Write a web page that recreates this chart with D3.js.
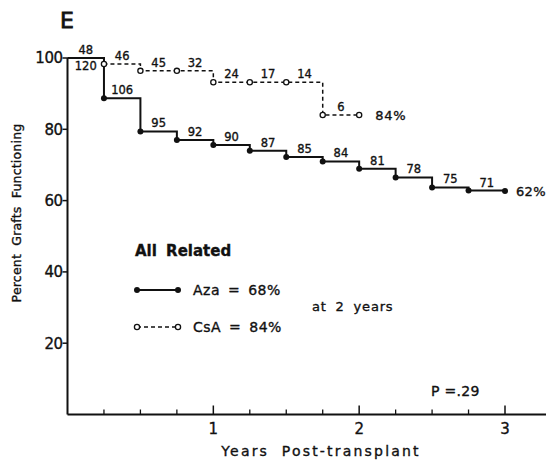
<!DOCTYPE html>
<html>
<head>
<meta charset="utf-8">
<script src="https://cdn.jsdelivr.net/npm/d3@7"></script>
<style>
  body { margin: 0; background: #fff; }
  svg text { font-family: "DejaVu Sans", sans-serif; fill: #111; stroke: #111; stroke-width: 0.35px; }
</style>
</head>
<body>
<div id="chart"></div>
<script>
// data
var azaYears = [0, 0.25, 0.5, 0.75, 1, 1.25, 1.5, 1.75, 2, 2.25, 2.5, 2.75, 3];
var azaPct = [100, 88.7, 79.4, 77.0, 75.6, 74.0, 72.2, 71.0, 68.9, 66.5, 63.7, 62.8, 62.7];
var azaAtRisk = [120, 106, 95, 92, 90, 87, 85, 84, 81, 78, 75, 71];

var csaYears = [0, 0.25, 0.5, 0.75, 1, 1.25, 1.5, 1.75, 2];
var csaPct = [100, 98.3, 96.4, 96.4, 93.2, 93.2, 93.2, 84, 84];
var csaAtRisk = [48, 46, 45, 32, 24, 17, 14, 6];

var yTicks = [20, 40, 60, 80, 100];
var xMajor = [1, 2, 3];
var xMinor = [0.25, 0.5, 0.75, 1.25, 1.5, 1.75, 2.25, 2.5, 2.75];

var W = 548, H = 460;
var x = d3.scaleLinear().domain([0, 3]).range([67.5, 505]);
var y = d3.scaleLinear().domain([0, 100]).range([414.5, 58]);

var svg = d3.select('#chart').append('svg')
    .attr('width', W)
    .attr('height', H);

// panel letter
svg.append('text')
    .attr('x', 60).attr('y', 28)
    .style('font-size', '22px')
    .style('stroke-width', '0.8px')
    .text('E');

// axes lines
svg.append('line')
    .attr('x1', x(0)).attr('x2', 546)
    .attr('y1', y(0)).attr('y2', y(0))
    .attr('stroke', '#111').attr('stroke-width', 2);
svg.append('line')
    .attr('x1', x(0)).attr('x2', x(0))
    .attr('y1', y(0)).attr('y2', y(100))
    .attr('stroke', '#111').attr('stroke-width', 2);

// y ticks
var yg = svg.append('g');
yg.selectAll('line').data(yTicks).join('line')
    .attr('x1', x(0) - 5).attr('x2', x(0))
    .attr('y1', d => y(d)).attr('y2', d => y(d))
    .attr('stroke', '#111').attr('stroke-width', 1.5);
yg.selectAll('text').data(yTicks).join('text')
    .attr('x', x(0) - 5).attr('y', d => y(d))
    .attr('dy', '0.36em')
    .attr('text-anchor', 'end')
    .style('font-size', '15px')
    .style('letter-spacing', '-0.5px')
    .text(d => d);

// x ticks (pointing up into the plot)
svg.append('g').selectAll('line').data(xMinor).join('line')
    .attr('x1', d => x(d)).attr('x2', d => x(d))
    .attr('y1', y(0)).attr('y2', y(0) - 5)
    .attr('stroke', '#111').attr('stroke-width', 1.3);
var xg = svg.append('g');
xg.selectAll('line').data(xMajor).join('line')
    .attr('x1', d => x(d)).attr('x2', d => x(d))
    .attr('y1', y(0)).attr('y2', y(0) - 9)
    .attr('stroke', '#111').attr('stroke-width', 1.5);
xg.selectAll('text').data(xMajor).join('text')
    .attr('x', d => x(d)).attr('y', 434)
    .attr('text-anchor', 'middle')
    .style('font-size', '15px')
    .text(d => d);

// axis titles
svg.append('text')
    .attr('x', 321).attr('y', 456)
    .attr('text-anchor', 'middle')
    .style('font-size', '14px')
    .style('letter-spacing', '2.2px')
    .style('word-spacing', '6px')
    .text('Years Post-transplant');
svg.append('text')
    .attr('transform', 'translate(21,213) rotate(-90)')
    .attr('text-anchor', 'middle')
    .style('font-size', '12.5px')
    .style('letter-spacing', '0.2px')
    .style('word-spacing', '4px')
    .text('Percent Grafts Functioning');

// survival curves
var step = d3.line()
    .x(d => x(d[0]))
    .y(d => y(d[1]))
    .curve(d3.curveStepAfter);

var azaPts = azaYears.map((t, i) => [t, azaPct[i]]);
var csaPts = csaYears.map((t, i) => [t, csaPct[i]]);

svg.append('path')
    .attr('d', step(csaPts))
    .attr('fill', 'none')
    .attr('stroke', '#111')
    .attr('stroke-width', 1.5)
    .attr('stroke-dasharray', '4,3');
svg.append('path')
    .attr('d', step(azaPts))
    .attr('fill', 'none')
    .attr('stroke', '#111')
    .attr('stroke-width', 2);

svg.append('g').selectAll('circle').data(azaPts.slice(1)).join('circle')
    .attr('cx', d => x(d[0])).attr('cy', d => y(d[1]))
    .attr('r', 3).attr('fill', '#111');
svg.append('g').selectAll('circle').data(csaPts.slice(1)).join('circle')
    .attr('cx', d => x(d[0])).attr('cy', d => y(d[1]))
    .attr('r', 2.6).attr('fill', '#fff')
    .attr('stroke', '#111').attr('stroke-width', 1.3);

// numbers at risk in each interval
svg.append('g').selectAll('text').data(azaAtRisk).join('text')
    .attr('x', (d, i) => x((azaYears[i] + azaYears[i + 1]) / 2))
    .attr('y', (d, i) => i === 0 ? y(azaPct[i]) + 12 : y(azaPct[i]) - 4)
    .attr('text-anchor', 'middle')
    .style('font-size', '11.5px')
    .text(d => d);
svg.append('g').selectAll('text').data(csaAtRisk).join('text')
    .attr('x', (d, i) => x((csaYears[i] + csaYears[i + 1]) / 2))
    .attr('y', (d, i) => y(csaPct[i]) - 4)
    .attr('text-anchor', 'middle')
    .style('font-size', '11.5px')
    .text(d => d);

// end values
svg.append('text')
    .attr('x', x(2) + 16).attr('y', y(csaPct[csaPct.length - 1]) + 5)
    .style('font-size', '13px')
    .style('letter-spacing', '0.8px')
    .text('84%');
svg.append('text')
    .attr('x', x(3) + 11).attr('y', y(azaPct[azaPct.length - 1]) + 5)
    .style('font-size', '13px')
    .style('letter-spacing', '0.3px')
    .text('62%');

// legend
var lg = svg.append('g');
lg.append('text')
    .attr('x', 135).attr('y', 256)
    .style('font-size', '15px')
    .style('font-weight', 'bold')
    .style('word-spacing', '4px')
    .text('All Related');

lg.append('line')
    .attr('x1', 137).attr('x2', 178).attr('y1', 290).attr('y2', 290)
    .attr('stroke', '#111').attr('stroke-width', 2);
lg.selectAll('circle.aza').data([137, 178]).join('circle')
    .attr('class', 'aza')
    .attr('cx', d => d).attr('cy', 290).attr('r', 3).attr('fill', '#111');
lg.append('line')
    .attr('x1', 137).attr('x2', 178).attr('y1', 327).attr('y2', 327)
    .attr('stroke', '#111').attr('stroke-width', 1.5)
    .attr('stroke-dasharray', '4,3');
lg.selectAll('circle.csa').data([137, 178]).join('circle')
    .attr('class', 'csa')
    .attr('cx', d => d).attr('cy', 327).attr('r', 2.6)
    .attr('fill', '#fff').attr('stroke', '#111').attr('stroke-width', 1.3);

lg.append('text')
    .attr('x', 193).attr('y', 295)
    .style('font-size', '14px')
    .style('letter-spacing', '0.5px')
    .style('word-spacing', '3px')
    .text('Aza = 68%');
lg.append('text')
    .attr('x', 193).attr('y', 332)
    .style('font-size', '14px')
    .style('letter-spacing', '0.5px')
    .style('word-spacing', '3px')
    .text('CsA = 84%');
lg.append('text')
    .attr('x', 312).attr('y', 311)
    .style('font-size', '13px')
    .style('letter-spacing', '0.8px')
    .style('word-spacing', '4px')
    .text('at 2 years');

svg.append('text')
    .attr('x', 431).attr('y', 396)
    .style('font-size', '14px')
    .style('letter-spacing', '0.3px')
    .text('P =.29');
</script>
</body>
</html>
